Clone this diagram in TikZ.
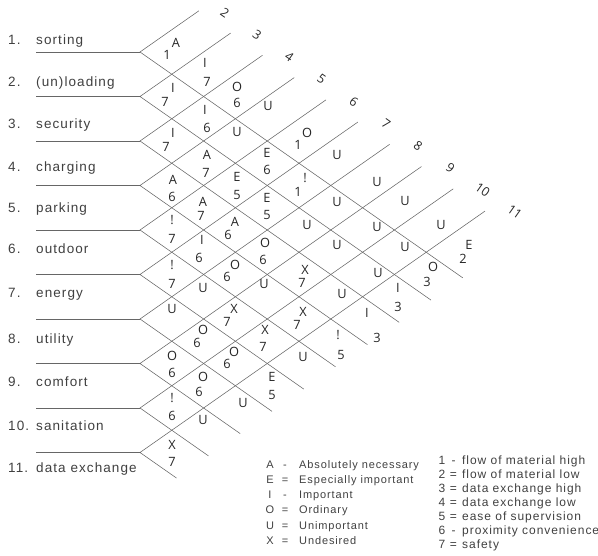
\documentclass[tikz,border=0pt]{standalone}
\usepackage{fontspec}
\setmainfont{Open Sans}
\newfontfamily\lblfont[LetterSpace=8]{Liberation Sans}
\begin{document}
\begin{tikzpicture}[x=1pt,y=-1pt,
  grid/.style={draw=black!60, line width=0.55pt},
  cell/.style={inner sep=0pt, font=\fontsize{12.8}{12.8}\selectfont, text=black!85},
  topnum/.style={inner sep=0pt, font=\fontsize{12.5}{12.5}\selectfont, rotate=-35, text=black!85},
  rowlbl/.style={inner sep=0pt, anchor=base west, font=\lblfont\fontsize{13.5}{13.5}\selectfont, text=black!75},
  legl/.style={inner sep=0pt, font=\lblfont\fontsize{11}{11}\selectfont, text=black!75},
  legr/.style={inner sep=0pt, font=\lblfont\fontsize{12}{12}\selectfont, text=black!75}]
\useasboundingbox (0,0) rectangle (598,556);
\def\W{31.8}
\def\H{22.25}
% grid lines
\foreach \k in {1,...,10} {
  \pgfmathsetmacro\yy{52+44.5*(\k-1)}
  \pgfmathsetmacro\mm{\k-1}
  \coordinate (V\k) at (140,\yy);
  \coordinate (H\k) at (36,\yy);
  \coordinate (LE\k) at ({140+\W*(\mm+1.85)},{52+\H*(\mm-1.85)});
  \coordinate (DE\k) at ({140+\W*(10.15-\mm)},{52+\H*(10.15+\mm)});
  \draw[grid] (H\k) -- (V\k);
  \draw[grid] (LE\k) -- (V\k) -- (DE\k);
}
% column numbers
\foreach \j in {2,...,11}
  \node[topnum] (T\j) at ({225+32.2*(\j-2)},{13+22.1*(\j-2)}) {\j};
% row labels
\foreach \n/\nm/\yb in {1/sorting/45, 2/(un)loading/86.5, 3/security/128.5, 4/charging/172,
  5/parking/213, 6/outdoor/254, 7/energy/298, 8/utility/344, 9/comfort/387,
  10/sanitation/431, 11/data exchange/472} {
  \node[rowlbl] (RN\n) at (8,\yb) {\n.};
  \node[rowlbl] (RL\n) at (36,\yb) {\nm};
}
% cell entries
\foreach \t/\x/\y [count=\c] in {
  A/176/43, 1/167/55,
  I/205/63, 7/207/82,
  O/237/87, 6/237/103,
  U/268/106,
  O/307/133, 1/298/145,
  U/337/155,
  U/377/182,
  U/405/201,
  U/441/225,
  E/469/245, 2/463/259,
  I/173/88, 7/165/102,
  I/205/110, 6/207/128,
  U/237/132,
  E/267/153, 6/267/170,
  !/305/178, 1/298/192,
  U/337/202,
  U/377/227,
  U/405/247,
  O/433/267, 3/427/282,
  I/173/133, 7/166/147,
  A/207/155, 7/206/173,
  E/237/177, 5/237/195,
  E/267/198, 5/267/215,
  U/307/225,
  U/337/245,
  U/378/273,
  I/398/288, 3/398/307,
  A/173/180, 6/172/197,
  A/203/202, 7/201/216,
  A/235/222, 6/228/235,
  O/265/243, 6/263/260,
  X/305/270, 7/302/283,
  U/342/294,
  I/367/313, 3/377/338,
  !/172/220, 7/172/239,
  I/202/240, 6/199/258,
  O/235/265, 6/227/277,
  U/264/284,
  X/303/312, 7/297/325,
  !/338/335, 5/341/355,
  !/172/265, 7/172/284,
  U/203/288,
  X/234/309, 7/227/322,
  X/265/330, 7/263/347,
  U/303/357,
  U/172/309,
  O/203/330, 6/197/343,
  O/234/352, 6/227/364,
  E/272/377, 5/272/395,
  O/172/356, 6/172/373,
  O/203/377, 6/199/392,
  U/243/403,
  !/172/398, 6/172/416,
  U/203/420,
  X/172/445, 7/172/462}
  \node[cell] (c\c) at (\x,\y) {\t};
% legend left
\foreach \l/\s/\txt/\yb [count=\c] in {
  A/-/Absolutely necessary/469,
  E/=/Especially important/484,
  I/-/Important/499,
  O/=/Ordinary/514,
  U/=/Unimportant/529.5,
  X/=/Undesired/544.5} {
  \node[legl, anchor=base] (LA\c) at (270,\yb) {\l};
  \node[legl, anchor=base] (LS\c) at (285,\yb) {\s};
  \node[legl, anchor=base west] (LT\c) at (299,\yb) {\txt};
}
% legend right
\foreach \l/\s/\txt/\yb [count=\c] in {
  1/-/flow of material high/464.5,
  2/=/flow of material low/478.5,
  3/=/data exchange high/492.5,
  4/=/data exchange low/506.5,
  5/=/ease of supervision/520.5,
  6/-/proximity convenience/534.5,
  7/=/safety/548.5} {
  \node[legr, anchor=base] (RA\c) at (442,\yb) {\l};
  \node[legr, anchor=base] (RS\c) at (453.5,\yb) {\s};
  \node[legr, anchor=base west] (RT\c) at (462,\yb) {\txt};
}
\end{tikzpicture}
\end{document}
